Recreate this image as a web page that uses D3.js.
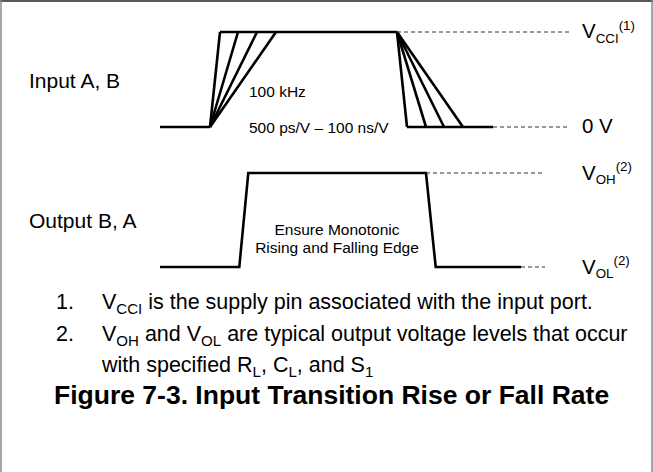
<!DOCTYPE html>
<html>
<head>
<meta charset="utf-8">
<script src="https://cdn.jsdelivr.net/npm/d3@7"></script>
<style>
  body { margin: 0; background: #fff; }
  svg { display: block; font-family: "Liberation Sans", Arial, Helvetica, sans-serif; }
</style>
</head>
<body>
<div id="chart"></div>
<script>
// time positions along the traces (arbitrary units, 0 = left end of a trace)
const inputRiseStart = 50;
const inputRiseEnds = [60, 78, 97, 116];
const inputFallStart = 237;
const inputFallEnds = [247, 266, 284, 303];
const inputLowEnd = 333;
const inputRefEnd = 410;

const outputRise = [79.3, 88.3];
const outputFall = [266, 275.7];
const outputLowEnd = 361;
const outputRefEnd = 385;

// logic levels: 0 = low, 1 = high
const levels = [0, 1];

const traceLabels = ['Input A, B', 'Output B, A'];
const slewLabels = ['100 kHz', '500 ps/V \u2013 100 ns/V'];
const noteLabels = ['Ensure Monotonic', 'Rising and Falling Edge'];

const inputLevelLabels = [
  [['0 V', '']],
  [['V', ''], ['CCI', 'sub'], ['(1)', 'sup']]
];
const outputLevelLabels = [
  [['V', ''], ['OL', 'sub'], ['(2)', 'sup']],
  [['V', ''], ['OH', 'sub'], ['(2)', 'sup']]
];

const footnotes = [
  ['1.', [['V', ''], ['CCI', 'sub'], [' is the supply pin associated with the input port.', '']]],
  ['2.', [['V', ''], ['OH', 'sub'], [' and V', ''], ['OL', 'sub'], [' are typical output voltage levels that occur', '']]],
  ['', [['with specified R', ''], ['L', 'sub'], [', C', ''], ['L', 'sub'], [', and S', ''], ['1', 'sub']]]
];
const title = 'Figure 7-3. Input Transition Rise or Fall Rate';

const width = 653;
const height = 472;

const svg = d3.select('#chart')
  .append('svg')
  .attr('width', width)
  .attr('height', height);

// frame
svg.append('line').attr('x1', 0).attr('x2', width).attr('y1', 1).attr('y2', 1)
  .attr('stroke', '#222').attr('stroke-width', 1.5);
svg.append('line').attr('x1', 1).attr('x2', 1).attr('y1', 0).attr('y2', height)
  .attr('stroke', '#888').attr('stroke-width', 1.5);
svg.append('line').attr('x1', width - 1).attr('x2', width - 1).attr('y1', 0).attr('y2', height)
  .attr('stroke', '#888').attr('stroke-width', 1.5);

const x = d3.scaleLinear().domain([0, 410]).range([160, 570]);
const yIn = d3.scaleLinear().domain([0, 1]).range([127, 32]);
const yOut = d3.scaleLinear().domain([0, 1]).range([267, 173]);

function richText(g, px, py, parts, size, small = 0.65) {
  const t = g.append('text').attr('x', px).attr('y', py).attr('font-size', size).attr('fill', '#000');
  let shift = 0;
  parts.forEach(([str, kind]) => {
    const target = kind === 'sub' ? size * 0.22 : kind === 'sup' ? -size * 0.4 : 0;
    t.append('tspan')
      .attr('dy', target - shift)
      .attr('font-size', kind ? size * small : size)
      .text(str);
    shift = target;
  });
  return t;
}

const solid = svg.append('g')
  .attr('fill', 'none')
  .attr('stroke', '#000')
  .attr('stroke-width', 2.6)
  .attr('stroke-linejoin', 'miter');

const dashed = svg.append('g')
  .attr('fill', 'none')
  .attr('stroke', '#333')
  .attr('stroke-width', 1)
  .attr('stroke-dasharray', '4,3');

const lineIn = d3.line().x(d => x(d[0])).y(d => yIn(d[1]));
const lineOut = d3.line().x(d => x(d[0])).y(d => yOut(d[1]));

// input trace
solid.append('path').attr('d', lineIn([[0, 0], [inputRiseStart, 0]]));
solid.selectAll('path.rise')
  .data(inputRiseEnds)
  .enter()
  .append('path')
  .attr('class', 'rise')
  .attr('d', d => lineIn([[inputRiseStart, 0], [d, 1]]));
solid.append('path').attr('d', lineIn([[inputRiseEnds[0], 1], [inputFallStart, 1]]));
solid.selectAll('path.fall')
  .data(inputFallEnds)
  .enter()
  .append('path')
  .attr('class', 'fall')
  .attr('d', d => lineIn([[inputFallStart, 1], [d, 0]]));
solid.append('path').attr('d', lineIn([[inputFallEnds[0], 0], [inputLowEnd, 0]]));

dashed.append('path').attr('d', lineIn([[inputFallStart, 1], [inputRefEnd, 1]]));
dashed.append('path').attr('d', lineIn([[inputLowEnd, 0], [inputRefEnd, 0]]));

// output trace
solid.append('path').attr('d', lineOut([
  [0, 0], [outputRise[0], 0], [outputRise[1], 1],
  [outputFall[0], 1], [outputFall[1], 0], [outputLowEnd, 0]
]));
dashed.append('path').attr('d', lineOut([[outputFall[0], 1], [outputRefEnd, 1]]));
dashed.append('path').attr('d', lineOut([[outputLowEnd, 0], [outputRefEnd, 0]]));

// trace names
svg.append('text').attr('x', 29).attr('y', 88).attr('font-size', 21).text(traceLabels[0]);
svg.append('text').attr('x', 29).attr('y', 228).attr('font-size', 21).text(traceLabels[1]);

// annotations
svg.append('text').attr('x', 249).attr('y', 97).attr('font-size', 15.5).text(slewLabels[0]);
svg.append('text').attr('x', 249).attr('y', 132.5).attr('font-size', 15.5).text(slewLabels[1]);
svg.append('text').attr('x', 337).attr('y', 235).attr('font-size', 15.5)
  .attr('text-anchor', 'middle').text(noteLabels[0]);
svg.append('text').attr('x', 337).attr('y', 252.5).attr('font-size', 15.5)
  .attr('text-anchor', 'middle').text(noteLabels[1]);

// level labels
const levelX = 582;
levels.forEach(l => {
  richText(svg, levelX, yIn(l) + 6, inputLevelLabels[l], 20.5);
  richText(svg, levelX, yOut(l) + 6.5, outputLevelLabels[l], 20.5);
});

// footnotes
const noteY = [309, 341, 372];
footnotes.forEach(([num, parts], i) => {
  if (num) svg.append('text').attr('x', 56).attr('y', noteY[i]).attr('font-size', 21.5).text(num);
  richText(svg, 102, noteY[i], parts, 21.5, 0.7);
});

svg.append('text')
  .attr('x', 54)
  .attr('y', 404)
  .attr('font-size', 26.5)
  .attr('font-weight', 'bold')
  .text(title);
</script>
</body>
</html>
